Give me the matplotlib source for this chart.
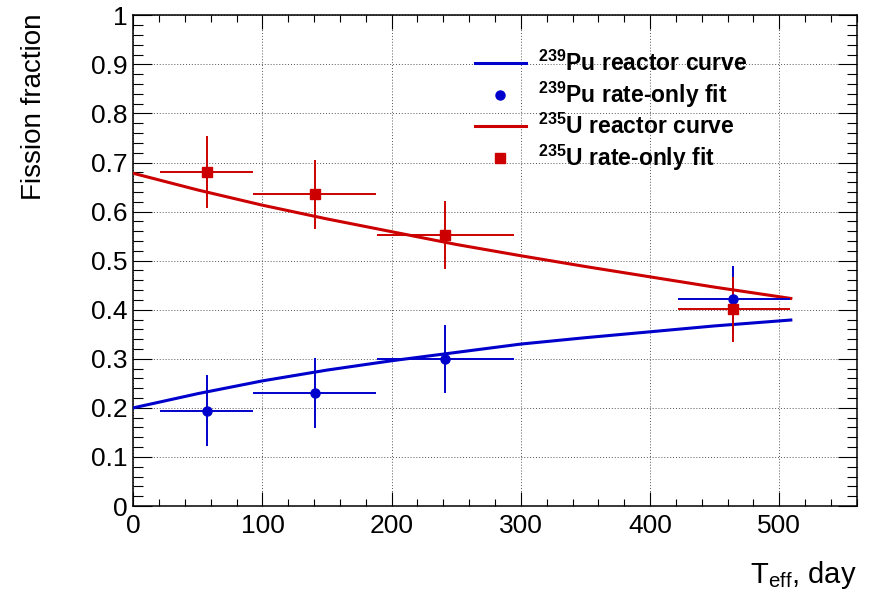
import matplotlib
matplotlib.use('Agg')
import matplotlib.pyplot as plt
from matplotlib.lines import Line2D
from matplotlib.ticker import MultipleLocator, FormatStrFormatter

plt.rcParams['font.family'] = ['Liberation Sans', 'DejaVu Sans']
plt.rcParams['mathtext.default'] = 'regular'

# reactor curves
t_curve = [0, 50, 100, 150, 200, 250, 300, 350, 400, 450, 509]
pu_curve = [0.200, 0.229, 0.255, 0.277, 0.296, 0.313, 0.330, 0.343, 0.355, 0.367, 0.379]
u_curve = [0.678, 0.644, 0.613, 0.585, 0.559, 0.533, 0.510, 0.488, 0.467, 0.446, 0.423]

# rate-only fit points
t_fit = [56.8, 140.5, 241.0, 464.0]
t_lo = [20.6, 92.8, 189.0, 421.5]
t_hi = [92.8, 188.0, 294.4, 508.0]
pu_fit = [0.194, 0.230, 0.299, 0.421]
pu_err = [0.072, 0.071, 0.069, 0.068]
u_fit = [0.681, 0.635, 0.552, 0.401]
u_err = [0.074, 0.071, 0.069, 0.066]

blue = '#0000cc'
red = '#cc0000'

xerr = [[t - lo for t, lo in zip(t_fit, t_lo)], [hi - t for t, hi in zip(t_fit, t_hi)]]

fig = plt.figure(figsize=(8.73, 5.93), dpi=100)
ax = fig.add_axes([133.3/873, 87/593, (856.7-133.3)/873, (506-15.3)/593])

ax.plot(t_curve, pu_curve, color=blue, lw=2.2, zorder=3)
ax.errorbar(t_fit, pu_fit, xerr=xerr, yerr=pu_err, fmt='o', color=blue, ms=6.5,
            elinewidth=1.4, capsize=0, zorder=4)
ax.plot(t_curve, u_curve, color=red, lw=2.2, zorder=3)
ax.errorbar(t_fit, u_fit, xerr=xerr, yerr=u_err, fmt='s', color=red, ms=6.5,
            elinewidth=1.4, capsize=0, zorder=4)

ax.set_xlim(0, 560)
ax.set_ylim(0, 1)
ax.xaxis.set_major_locator(MultipleLocator(100))
ax.xaxis.set_minor_locator(MultipleLocator(20))
ax.yaxis.set_major_locator(MultipleLocator(0.1))
ax.yaxis.set_minor_locator(MultipleLocator(0.02))
ax.yaxis.set_major_formatter(FormatStrFormatter('%g'))
ax.xaxis.set_major_formatter(FormatStrFormatter('%g'))

ax.tick_params(axis='both', which='both', direction='in', width=0.8, labelsize=19, colors='black')
ax.tick_params(axis='x', which='major', length=10, top=True, pad=6)
ax.tick_params(axis='x', which='minor', length=5, top=True)
ax.tick_params(axis='y', which='major', length=14, right=True, pad=4)
ax.tick_params(axis='y', which='minor', length=7, right=True)
for s in ax.spines.values():
    s.set_linewidth(1.1)

ax.grid(True, which='major', color='#555555', linestyle=(0, (1, 2)), lw=0.7)
ax.set_axisbelow(True)

fig.text(41/873, 1 - 13.3/593, 'Fission fraction', fontsize=20, rotation=90,
         rotation_mode='anchor', ha='right', va='baseline')
fig.text(856.7/873, 1 - 582.7/593, r'T$_{eff}$, day', fontsize=21, ha='right', va='baseline')

handles = [
    Line2D([0], [0], color=blue, lw=2.2),
    Line2D([0], [0], color=blue, marker='o', ls='none', ms=6.5),
    Line2D([0], [0], color=red, lw=2.2),
    Line2D([0], [0], color=red, marker='s', ls='none', ms=6.5),
]
labels = [r'$^{239}$Pu reactor curve', r'$^{239}$Pu rate-only fit',
          r'$^{235}$U reactor curve', r'$^{235}$U rate-only fit']
leg = ax.legend(handles, labels, loc='upper left', bbox_to_anchor=(0.459, 0.947),
                frameon=False, prop={'weight': 'bold', 'size': 16.5},
                handlelength=2.23, handletextpad=0.52, labelspacing=0.17, borderaxespad=0)

fig.savefig('out.png', dpi=100)
